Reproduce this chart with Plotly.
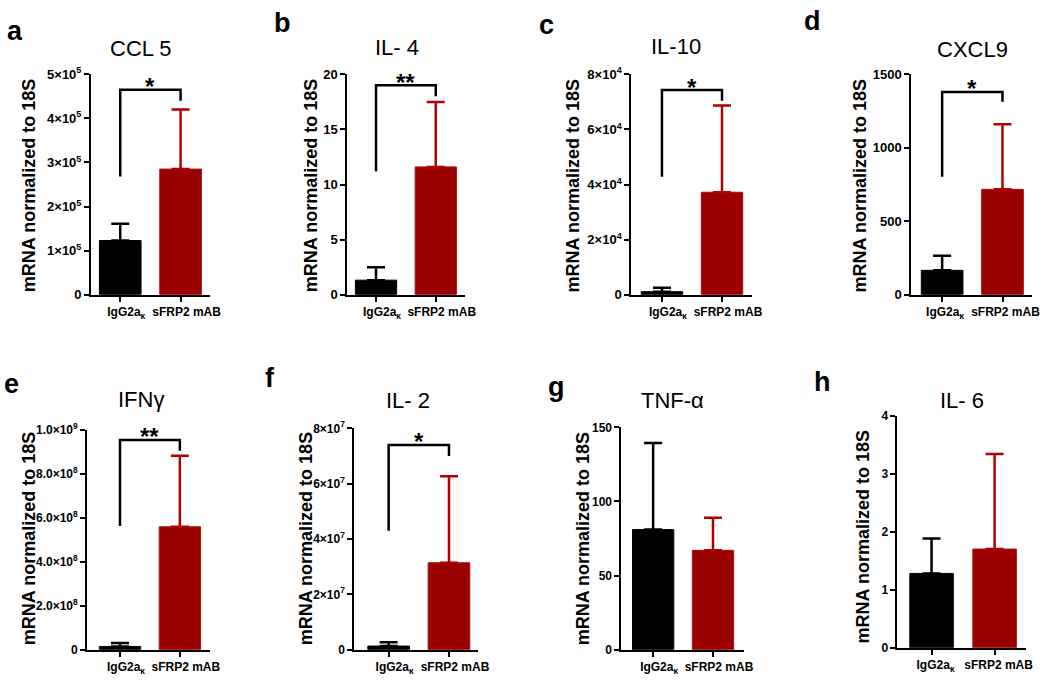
import plotly.graph_objects as go

# ---------------- data ----------------
panel_letters = ["a", "b", "c", "d", "e", "f", "g", "h"]
titles = ["CCL 5", "IL- 4", "IL-10", "CXCL9", "IFNγ", "IL- 2", "TNF-α", "IL- 6"]
group_labels = ["IgG2a<sub>κ</sub>", "sFRP2 mAB"]
y_title = "mRNA normalized to 18S"

ctrl_mean = [1.23e5, 1.32, 1.1e3, 166, 1.4e7, 1.3e6, 81, 1.28]
ctrl_sem = [0.38e5, 1.17, 1.4e3, 99, 1.6e7, 1.4e6, 58.5, 0.60]
mab_mean = [2.85e5, 11.6, 3.72e4, 717, 5.6e8, 3.14e7, 67, 1.70]
mab_sem = [1.35e5, 5.9, 3.15e4, 444, 3.24e8, 3.13e7, 22, 1.64]

y_max = [5e5, 20, 8e4, 1500, 1e9, 8e7, 150, 4]
y_tickvals = [
    [0, 1e5, 2e5, 3e5, 4e5, 5e5],
    [0, 5, 10, 15, 20],
    [0, 2e4, 4e4, 6e4, 8e4],
    [0, 500, 1000, 1500],
    [0, 2e8, 4e8, 6e8, 8e8, 1e9],
    [0, 2e7, 4e7, 6e7, 8e7],
    [0, 50, 100, 150],
    [0, 1, 2, 3, 4],
]
y_ticktext = [
    ["0", "1×10<sup>5</sup>", "2×10<sup>5</sup>", "3×10<sup>5</sup>", "4×10<sup>5</sup>", "5×10<sup>5</sup>"],
    ["0", "5", "10", "15", "20"],
    ["0", "2×10<sup>4</sup>", "4×10<sup>4</sup>", "6×10<sup>4</sup>", "8×10<sup>4</sup>"],
    ["0", "500", "1000", "1500"],
    ["0", "2.0×10<sup>8</sup>", "4.0×10<sup>8</sup>", "6.0×10<sup>8</sup>", "8.0×10<sup>8</sup>", "1.0×10<sup>9</sup>"],
    ["0", "2×10<sup>7</sup>", "4×10<sup>7</sup>", "6×10<sup>7</sup>", "8×10<sup>7</sup>"],
    ["0", "50", "100", "150"],
    ["0", "1", "2", "3", "4"],
]

# significance brackets: left foot, top, right foot (data units); None = no bracket
sig_left = [2.68e5, 11.2, 4.28e4, 803, 5.64e8, 4.3e7, None, None]
sig_top = [4.65e5, 19.0, 7.43e4, 1380, 9.56e8, 7.4e7, None, None]
sig_right = [4.4e5, 18.0, 7.04e4, 1314, 9.07e8, 7.0e7, None, None]
sig_label = ["*", "**", "*", "*", "**", "*", None, None]

# ---------------- layout (pixels) ----------------
W, H = 1050, 683
# x0, x1, top, bottom of plot area
boxes = [
    (92, 212, 67, 293), (351, 470, 67, 293), (638, 760, 67, 293), (921, 1043, 67, 293),
    (88, 212, 432, 657), (358, 483, 430, 657), (628, 752, 429, 657), (907, 1037, 417, 655),
]
xranges = [
    (-0.484, 1.484), (-0.48, 1.49), (-0.51, 1.50), (-0.51, 1.49),
    (-0.55, 1.50), (-0.57, 1.48), (-0.53, 1.52), (-0.54, 1.50),
]
label_shift = [6, 6, 6, 3, 6, 6, 6, 4]
ytitle_pos = [(30, 181), (315, 181), (580, 181), (870, 181),
              (30, 543), (310, 543), (590, 543), (872, 541)]
letter_pos = [(15, 23), (285, 14), (552, 16), (821, 12),
              (12, 385), (273, 378), (562, 388), (831, 383)]
title_pos = [(142, 41), (401, 39), (683, 38), (983, 42),
             (142, 400), (412, 401), (680, 401), (972, 402)]

FONT = "Liberation Sans, Arial, sans-serif"
BLACK = "#000000"
RED = "#9b0000"
RED_ERR = "#b00000"


def px(x):
    return x / W


def py(y):
    return 1 - y / H


fig = go.Figure()
annotations = []
layout_axes = {}

for i in range(8):
    n = "" if i == 0 else str(i + 1)
    xa, ya = "x" + n, "y" + n
    x0, x1, top, bot = boxes[i]

    fig.add_trace(go.Bar(
        x=[0], y=[ctrl_mean[i]], xaxis=xa, yaxis=ya, width=0.69,
        marker=dict(color=BLACK, line=dict(color=BLACK, width=1)),
        error_y=dict(type="data", symmetric=False, array=[ctrl_sem[i]], arrayminus=[0],
                     color=BLACK, thickness=2.5, width=9),
        showlegend=False,
    ))
    fig.add_trace(go.Bar(
        x=[1], y=[mab_mean[i]], xaxis=xa, yaxis=ya, width=0.69,
        marker=dict(color=RED, line=dict(color="#a81010", width=1)),
        error_y=dict(type="data", symmetric=False, array=[mab_sem[i]], arrayminus=[0],
                     color=RED_ERR, thickness=2.5, width=9),
        showlegend=False,
    ))

    if sig_top[i] is not None:
        fig.add_trace(go.Scatter(
            x=[0, 0, 1, 1], y=[sig_left[i], sig_top[i], sig_top[i], sig_right[i]],
            xaxis=xa, yaxis=ya, mode="lines", cliponaxis=False,
            line=dict(color=BLACK, width=2.5), showlegend=False, hoverinfo="skip",
        ))
        annotations.append(dict(
            x=0.5, y=sig_top[i], xref=xa, yref=ya, text=sig_label[i], showarrow=False,
            xanchor="center", yanchor="middle", yshift=3,
            font=dict(family=FONT, size=24, color=BLACK, weight="bold"),
        ))

    layout_axes["xaxis" + n] = dict(
        domain=[px(x0), px(x1)], anchor=ya, range=list(xranges[i]),
        tickmode="array", tickvals=[0, 1], ticktext=group_labels,
        showline=True, linecolor=BLACK, linewidth=2, ticks="outside",
        ticklen=5, tickwidth=2, tickcolor=BLACK, showgrid=False, zeroline=False,
        tickfont=dict(family=FONT, size=12, color=BLACK, weight="bold"),
        ticklabelshift=label_shift[i], fixedrange=True,
    )
    layout_axes["yaxis" + n] = dict(
        domain=[py(bot), py(top)], anchor=xa, range=[0, y_max[i]],
        tickmode="array", tickvals=y_tickvals[i], ticktext=y_ticktext[i],
        showline=True, linecolor=BLACK, linewidth=2, ticks="outside",
        ticklen=5, tickwidth=2, tickcolor=BLACK, showgrid=False, zeroline=False,
        tickfont=dict(family=FONT, size=13 if i < 4 else 12, color=BLACK, weight="bold"),
        fixedrange=True,
    )

    tx, ty = ytitle_pos[i]
    annotations.append(dict(
        x=px(tx), y=py(ty), xref="paper", yref="paper", text=y_title, textangle=-90,
        showarrow=False, xanchor="center", yanchor="middle",
        font=dict(family=FONT, size=18, color=BLACK, weight="bold"),
    ))
    lx, ly = letter_pos[i]
    annotations.append(dict(
        x=px(lx), y=py(ly), xref="paper", yref="paper", text=panel_letters[i],
        showarrow=False, xanchor="center", yanchor="middle",
        font=dict(family=FONT, size=27, color=BLACK, weight="bold"),
    ))
    hx, hy = title_pos[i]
    annotations.append(dict(
        x=px(hx), y=py(hy), xref="paper", yref="paper", text=titles[i],
        showarrow=False, xanchor="center", yanchor="middle",
        font=dict(family=FONT, size=22, color=BLACK),
    ))

fig.update_layout(
    width=W, height=H, margin=dict(l=0, r=0, t=0, b=0),
    paper_bgcolor="white", plot_bgcolor="white",
    barmode="overlay", showlegend=False,
    font=dict(family=FONT, color=BLACK),
    annotations=annotations,
    **layout_axes,
)

fig.write_html(
    "out.html",
    config={"displayModeBar": False},
    post_script="document.body.style.margin='0';document.body.style.padding='0';",
)
